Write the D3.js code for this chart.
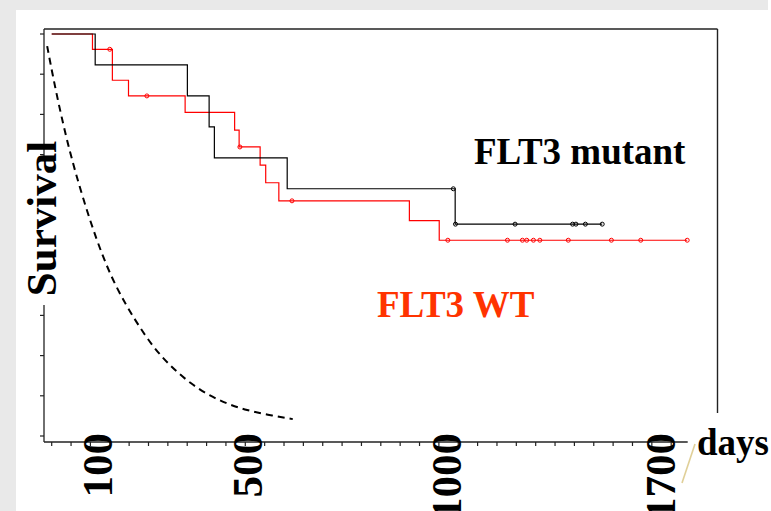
<!DOCTYPE html>
<html lang="en">
<head>
<meta charset="UTF-8">
<title>FLT3 survival</title>
<script src="https://d3js.org/d3.v7.min.js"></script>
<style>
    body { margin: 0; background: #e9e9e9; }
    svg text { font-family: "Liberation Serif", "Times New Roman", serif; font-weight: bold; }
</style>
</head>
<body>
<script>
    // tick labels on the day axis (placed by hand in the original, so a piecewise scale)
    var dayLabels = [100, 500, 1000, 1700];

    // FLT3 mutant (black): event days and survival after each step
    var mutantDays = [0, 96, 341, 399, 413, 601, 1030, 1511];
    var mutantSurv = [1, 0.923, 0.846, 0.769, 0.692, 0.615, 0.527, 0.527];
    var mutantCensor = [1024, 1031, 1226, 1414, 1425, 1456, 1511];

    // FLT3 WT (red)
    var wtDays = [0, 90, 141, 184, 335, 467, 479, 533, 547, 580, 908, 983, 1789];
    var wtSurv = [1, 0.962, 0.885, 0.846, 0.805, 0.761, 0.719, 0.674, 0.630, 0.585, 0.536, 0.487, 0.487];
    var wtCensor = [134, 233, 481, 613, 1006, 1201, 1250, 1264, 1286, 1307, 1400, 1541, 1637, 1789];

    // dashed reference curve
    var refDays = [-10, 0, 20, 50, 100, 150, 200, 250, 300, 350, 400, 450, 500, 550, 615];
    var refSurv = [0.97, 0.91, 0.80, 0.66, 0.48, 0.37, 0.29, 0.22, 0.17, 0.13, 0.10, 0.079, 0.064, 0.053, 0.042];

    var W = 771, H = 511;
    var svg = d3.select("body").append("svg").attr("width", W).attr("height", H);

    // grey frame with white panel
    svg.append("rect").attr("width", W).attr("height", H).attr("fill", "#e9e9e9");
    svg.append("rect").attr("x", 16).attr("y", 10).attr("width", W - 16).attr("height", H - 10).attr("fill", "white");
    svg.append("rect").attr("x", 768).attr("y", 0).attr("width", 3).attr("height", 10).attr("fill", "white");

    var x = d3.scaleLinear().domain([0, 100, 500, 1000, 1700]).range([51.7, 97, 247, 446, 660]);
    var y = d3.scaleLinear().domain([0, 1]).range([436, 34]);
    var tickScale = d3.scaleLinear().domain([0, 32]).range([51.7, 671.2]);

    var axisColor = "#222";
    // box: top and right side
    svg.append("line").attr("x1", 44).attr("x2", 717.5).attr("y1", 29).attr("y2", 29)
        .attr("stroke", axisColor).attr("stroke-width", 1.4);
    svg.append("line").attr("x1", 717.5).attr("x2", 717.5).attr("y1", 29).attr("y2", 413)
        .attr("stroke", axisColor).attr("stroke-width", 1.4);

    // y axis
    svg.append("line").attr("x1", 44).attr("x2", 44).attr("y1", 29).attr("y2", 442)
        .attr("stroke", axisColor).attr("stroke-width", 1.3);
    svg.selectAll(".ytick").data(d3.range(0, 11)).enter().append("line")
        .attr("x1", 40).attr("x2", 44)
        .attr("y1", function (d) { return y(d / 10); })
        .attr("y2", function (d) { return y(d / 10); })
        .attr("stroke", axisColor).attr("stroke-width", 1.2);

    // x axis
    svg.append("line").attr("x1", 44).attr("x2", 687.7).attr("y1", 442).attr("y2", 442)
        .attr("stroke", axisColor).attr("stroke-width", 1.3);
    svg.selectAll(".xtick").data(d3.range(0, 33)).enter().append("line")
        .attr("x1", function (d) { return tickScale(d); })
        .attr("x2", function (d) { return tickScale(d); })
        .attr("y1", 442).attr("y2", 446)
        .attr("stroke", axisColor).attr("stroke-width", 1.2);

    // dashed curve
    var refLine = d3.line()
        .x(function (d, i) { return x(refDays[i]); })
        .y(function (d) { return y(d); })
        .curve(d3.curveBasis);
    svg.append("path").datum(refSurv).attr("d", refLine)
        .attr("fill", "none").attr("stroke", "black")
        .attr("stroke-width", 2).attr("stroke-dasharray", "7,5");

    function survAt(days, surv, t) {
        var v = surv[0];
        for (var i = 0; i < days.length; i++) { if (days[i] <= t) v = surv[i]; }
        return v;
    }

    function drawKM(days, surv, censor, color) {
        var line = d3.line()
            .x(function (d, i) { return x(days[i]); })
            .y(function (d) { return y(d); })
            .curve(d3.curveStepAfter);
        svg.append("path").datum(surv).attr("d", line)
            .attr("fill", "none").attr("stroke", color).attr("stroke-width", 1.2);
        svg.selectAll(null).data(censor).enter().append("circle")
            .attr("cx", function (d) { return x(d); })
            .attr("cy", function (d) { return y(survAt(days, surv, d)); })
            .attr("r", 2)
            .attr("fill", "none").attr("stroke", color).attr("stroke-width", 1);
    }
    drawKM(wtDays, wtSurv, wtCensor, "#ff0000");
    drawKM(mutantDays, mutantSurv, mutantCensor, "black");

    // y label with white patch over the axis
    svg.append("rect").attr("x", 38).attr("y", 157).attr("width", 10).attr("height", 148).attr("fill", "white");
    svg.append("text")
        .attr("transform", "translate(55.5,218.5) rotate(-90)")
        .attr("text-anchor", "middle")
        .attr("font-size", 43)
        .attr("fill", "black")
        .text("Survival");

    // day labels, rotated (the lower ones run off the bottom edge as in the original)
    svg.selectAll(".xlab").data(dayLabels).enter().append("text")
        .attr("transform", function (d) { return "translate(" + (x(d) + 14.5) + ",433) rotate(-90)"; })
        .attr("text-anchor", "end")
        .attr("font-size", 43)
        .attr("fill", "black")
        .text(function (d) { return d; });

    svg.append("text").attr("x", 697).attr("y", 455).attr("font-size", 37).attr("fill", "black").text("days");

    // faint stray mark near the axis end
    svg.append("line").attr("x1", 695).attr("y1", 444).attr("x2", 682).attr("y2", 483)
        .attr("stroke", "#d9c47f").attr("stroke-width", 1.6).attr("opacity", 0.8);

    // group labels
    svg.append("text").attr("x", 474).attr("y", 164).attr("font-size", 37).attr("fill", "black").text("FLT3 mutant");
    svg.append("text").attr("x", 377).attr("y", 317).attr("font-size", 37).attr("fill", "#ff3300").text("FLT3 WT");
</script>
</body>
</html>
